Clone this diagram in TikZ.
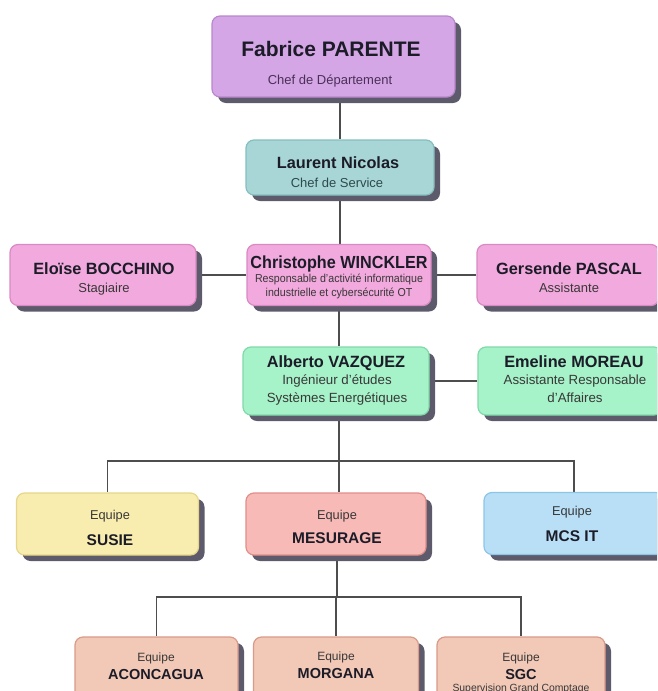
\documentclass[tikz,border=0pt]{standalone}
\usepackage{fontspec}
\setmainfont{Liberation Sans}
\usetikzlibrary{shadows,backgrounds}
\definecolor{shadowc}{HTML}{5D5B6B}
\definecolor{linec}{HTML}{4D4D4D}
\definecolor{namec}{HTML}{1C1C28}
\definecolor{subc}{HTML}{383838}
\definecolor{fabsubc}{HTML}{4A3058}
\definecolor{lausubc}{HTML}{2D4A4C}
\definecolor{purf}{HTML}{D5A6E6}\definecolor{purd}{HTML}{B987CC}
\definecolor{tealf}{HTML}{A8D6D7}\definecolor{teald}{HTML}{85BEBF}
\definecolor{pinkf}{HTML}{F2A9DD}\definecolor{pinkd}{HTML}{D98AC4}
\definecolor{greenf}{HTML}{A6F2C9}\definecolor{greend}{HTML}{80D9A9}
\definecolor{yelf}{HTML}{F8EDAE}\definecolor{yeld}{HTML}{E6D58A}
\definecolor{salf}{HTML}{F8BAB6}\definecolor{sald}{HTML}{E08E89}
\definecolor{bluef}{HTML}{B8DFF6}\definecolor{blued}{HTML}{8CC5E8}
\definecolor{peachf}{HTML}{F2C8B6}\definecolor{peachd}{HTML}{D99A88}
\newcommand\narrowtxt[1]{\scalebox{0.925}[1]{#1}}
\begin{document}
\begin{tikzpicture}[x=1pt,y=-1pt,
  box/.style n args={4}{fill=#1, draw=#2, line width=1.2pt, rounded corners=8pt,
    inner sep=0pt, minimum width=#3, minimum height=#4,
    drop shadow={shadow xshift=6pt, shadow yshift=-6pt, fill=shadowc, opacity=1}},
  conn/.style={draw=linec, line width=1.2pt},
  nm/.style={anchor=base, inner sep=0pt, text=namec, font=\bfseries\fontsize{16.3}{18}\selectfont},
  sub/.style={anchor=base, inner sep=0pt, text=subc, font=\fontsize{13}{15}\selectfont},
  eq/.style={anchor=base, inner sep=0pt, text=subc, font=\fontsize{12.8}{15}\selectfont},
  tm/.style={anchor=base, inner sep=0pt, text=namec, font=\bfseries\fontsize{15.5}{18}\selectfont},
]
\useasboundingbox (0,0) rectangle (657,691);
\clip (0,0) rectangle (657,691);

% level 1
\node[box={purf}{purd}{243pt}{81pt}] (fab) at (333.5,56.5) {};
\node[nm, font=\bfseries\fontsize{21}{24}\selectfont] (fabN) at (331,56) {Fabrice PARENTE};
\node[sub, text=fabsubc] (fabS) at (330,84) {Chef de Département};

% level 2
\node[box={tealf}{teald}{188pt}{55pt}] (lau) at (340,167.5) {};
\node[nm] (lauN) at (338,168) {Laurent Nicolas};
\node[sub, text=lausubc] (lauS) at (337,187) {Chef de Service};

% level 3
\node[box={pinkf}{pinkd}{186pt}{61pt}] (elo) at (103,275) {};
\node[nm] (eloN) at (104,274) {Eloïse BOCCHINO};
\node[sub] (eloS) at (104,292) {Stagiaire};

\node[box={pinkf}{pinkd}{184pt}{61pt}] (chr) at (339,275) {};
\node[nm, font=\bfseries\fontsize{17.5}{19}\selectfont] (chrN) at (339,268) {\narrowtxt{Christophe WINCKLER}};
\node[sub, font=\fontsize{11.5}{13}\selectfont] (chrS1) at (339,282.5) {\narrowtxt{Responsable d’activité informatique}};
\node[sub, font=\fontsize{11.5}{13}\selectfont] (chrS2) at (339,296.5) {\narrowtxt{industrielle et cybersécurité OT}};

\node[box={pinkf}{pinkd}{182pt}{61pt}] (ger) at (568,275) {};
\node[nm] (gerN) at (569,274) {Gersende PASCAL};
\node[sub] (gerS) at (569,292) {Assistante};

% level 4
\node[box={greenf}{greend}{186pt}{68pt}] (alb) at (336,381) {};
\node[nm] (albN) at (336,367) {Alberto VAZQUEZ};
\node[sub, font=\fontsize{13.3}{15}\selectfont] (albS1) at (337,384.5) {Ingénieur d’études};
\node[sub, font=\fontsize{13.3}{15}\selectfont] (albS2) at (337,402) {Systèmes Energétiques};

\node[box={greenf}{greend}{184pt}{68pt}] (eme) at (570,381) {};
\node[nm] (emeN) at (574,367) {Emeline MOREAU};
\node[sub, font=\fontsize{13.3}{15}\selectfont] (emeS1) at (575,384.5) {Assistante Responsable};
\node[sub, font=\fontsize{13.3}{15}\selectfont] (emeS2) at (575,402) {d’Affaires};

% level 5
\node[box={yelf}{yeld}{182pt}{62pt}] (sus) at (107.5,524) {};
\node[eq] (susE) at (110,519) {Equipe};
\node[tm] (susN) at (110,545) {SUSIE};

\node[box={salf}{sald}{180pt}{62pt}] (mes) at (336,524) {};
\node[eq] (mesE) at (337,519) {Equipe};
\node[tm] (mesN) at (337,543) {MESURAGE};

\node[box={bluef}{blued}{180pt}{62pt}] (mcs) at (574,523.5) {};
\node[eq] (mcsE) at (572,515) {Equipe};
\node[tm] (mcsN) at (572,541) {MCS IT};

% level 6
\node[box={peachf}{peachd}{163pt}{63pt}] (aco) at (156.5,668.5) {};
\node[eq, font=\fontsize{12}{14}\selectfont] (acoE) at (156,661) {Equipe};
\node[tm, font=\bfseries\fontsize{14.5}{17}\selectfont] (acoN) at (156,679) {ACONCAGUA};

\node[box={peachf}{peachd}{165pt}{63pt}] (mor) at (336,668.5) {};
\node[eq, font=\fontsize{12}{14}\selectfont] (morE) at (336,660) {Equipe};
\node[tm, font=\bfseries\fontsize{14.5}{17}\selectfont] (morN) at (336,678) {MORGANA};

\node[box={peachf}{peachd}{168pt}{63pt}] (sgc) at (521,668.5) {};
\node[eq, font=\fontsize{12}{14}\selectfont] (sgcE) at (521,661) {Equipe};
\node[tm, font=\bfseries\fontsize{14.5}{17}\selectfont] (sgcN) at (521,679) {SGC};
\node[sub, font=\fontsize{10.4}{12}\selectfont] (sgcS) at (521,691) {Supervision Grand Comptage};

\coordinate (j1) at (339,461);
\coordinate (j2) at (337,597);

\begin{scope}[on background layer]
\draw[conn] (lau.north |- fab.south) -- (lau.north);
\draw[conn] (lau.south) -- (lau.south |- chr.north);
\draw[conn] (elo.east) -- (chr.west);
\draw[conn] (chr.east) -- (ger.west);
\draw[conn] (chr.south -| j1) -- (alb.north -| j1);
\draw[conn] (alb.east) -- (eme.west);
\draw[conn] (alb.south -| j1) -- (mes.north -| j1);
\draw[conn] (sus.north) -- (sus.north |- j1) -- (mcs.north |- j1) -- (mcs.north);
\draw[conn] (mes.south -| j2) -- (j2);
\draw[conn] (aco.north) -- (aco.north |- j2) -- (sgc.north |- j2) -- (sgc.north);
\draw[conn] (mor.north |- j2) -- (mor.north);
\end{scope}
\end{tikzpicture}
\end{document}
